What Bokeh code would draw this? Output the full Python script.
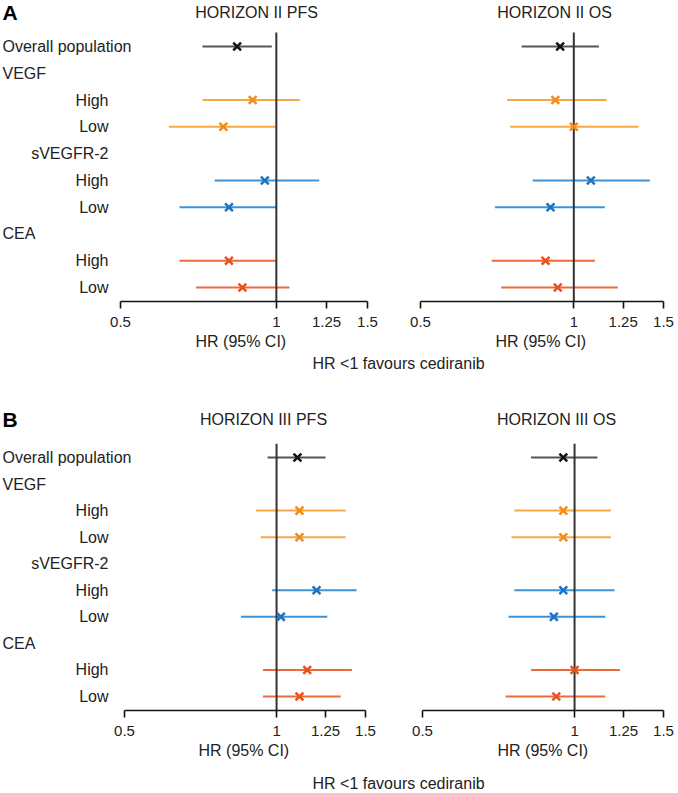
from bokeh.plotting import figure
from bokeh.models import Range1d, Label, FixedTicker, CustomJSTickFormatter, ColumnDataSource, Title
from bokeh.layouts import column, row
from bokeh.embed import file_html
from bokeh.resources import INLINE

# ---------------- data ----------------
row_labels = ["Overall population", "VEGF", "High", "Low", "sVEGFR-2", "High", "Low", "CEA", "High", "Low"]
label_align = ["left", "left", "right", "right", "right", "right", "right", "left", "right", "right"]
est_rows = [0, 2, 3, 5, 6, 8, 9]
est_group = ["Overall", "VEGF", "VEGF", "sVEGFR-2", "sVEGFR-2", "CEA", "CEA"]
tick_values = [0.5, 1, 1.25, 1.5]
null_hr = 1

h2_pfs_hr = [0.84, 0.90, 0.79, 0.95, 0.81, 0.81, 0.86]
h2_pfs_lo = [0.72, 0.72, 0.62, 0.76, 0.65, 0.65, 0.70]
h2_pfs_hi = [0.98, 1.11, 1.00, 1.21, 1.00, 1.00, 1.06]

h2_os_hr = [0.94, 0.92, 1.00, 1.08, 0.90, 0.88, 0.93]
h2_os_lo = [0.79, 0.74, 0.75, 0.83, 0.70, 0.69, 0.72]
h2_os_hi = [1.12, 1.16, 1.34, 1.41, 1.15, 1.10, 1.22]

h3_pfs_hr = [1.10, 1.11, 1.11, 1.20, 1.02, 1.15, 1.11]
h3_pfs_lo = [0.96, 0.91, 0.93, 0.98, 0.85, 0.94, 0.94]
h3_pfs_hi = [1.25, 1.37, 1.37, 1.44, 1.26, 1.41, 1.34]

h3_os_hr = [0.95, 0.95, 0.95, 0.95, 0.91, 1.00, 0.92]
h3_os_lo = [0.82, 0.76, 0.75, 0.76, 0.74, 0.82, 0.73]
h3_os_hi = [1.11, 1.18, 1.18, 1.20, 1.15, 1.23, 1.15]

# ---------------- style ----------------
FONT = "Liberation Sans"
TXT = "#222222"
group_line = {"Overall": "#555555", "VEGF": "#F7A845", "sVEGFR-2": "#3D93D6", "CEA": "#EF6A3A"}
group_marker = {"Overall": "#111111", "VEGF": "#F08C1A", "sVEGFR-2": "#1D72C2", "CEA": "#E9501F"}
LINE_TOP = -0.52     # top of the reference line (rows units)
X_LO, X_HI = 0.5, 1.5
BOTTOM = 54


def forest(hr, lo, hi, title, title_x, title_dy, xlabel_x, left, frame_w, right,
           frame_h, row_px, row0_px, labels=False, letter=None):
    # row geometry (pixels -> row units)
    y_top = -row0_px / row_px
    y_bot = y_top + frame_h / row_px
    # extra room on the left (inside the frame) for the row labels
    if labels:
        x_start = X_LO * (X_HI / X_LO) ** (-left / frame_w)
        min_left = 0
        fw = left + frame_w
    else:
        x_start = X_LO
        min_left = left
        fw = frame_w
    p = figure(width=min_left + fw + right, height=frame_h + BOTTOM, x_axis_type="log",
               x_range=Range1d(x_start, X_HI), y_range=Range1d(y_bot, y_top),
               output_backend="svg", toolbar_location=None,
               min_border_left=min_left, min_border_right=right,
               min_border_top=0, min_border_bottom=BOTTOM,
               y_axis_location=None)
    p.xgrid.visible = False
    p.ygrid.visible = False
    p.outline_line_color = None
    p.background_fill_color = "white"

    ax = p.xaxis[0]
    ax.bounds = (X_LO, X_HI)
    ax.ticker = FixedTicker(ticks=tick_values)
    ax.formatter = CustomJSTickFormatter(code="return tick.toString();")
    ax.axis_line_color = "#111111"
    ax.axis_line_width = 1.6
    ax.major_tick_line_color = "#111111"
    ax.major_tick_line_width = 1.6
    ax.major_tick_out = 7
    ax.major_tick_in = 0
    ax.minor_tick_line_color = None
    ax.major_label_text_font = FONT
    ax.major_label_text_font_size = "15px"
    ax.major_label_text_color = TXT
    ax.major_label_standoff = 8

    # x-axis title placed under the bounded part of the axis
    p.add_layout(Title(text="HR (95% CI)", align="left", offset=xlabel_x, standoff=2,
                       text_font=FONT, text_font_size="16px", text_font_style="normal",
                       text_color=TXT), "below")

    src = ColumnDataSource(dict(
        y=est_rows, hr=hr, lo=lo, hi=hi,
        lc=[group_line[g] for g in est_group],
        mc=[group_marker[g] for g in est_group],
    ))
    p.segment(x0="lo", y0="y", x1="hi", y1="y", source=src, line_color="lc", line_width=2)
    p.segment(x0=[null_hr], y0=[LINE_TOP], x1=[null_hr], y1=[y_bot],
              line_color="#333333", line_width=2)
    p.scatter(x="hr", y="y", source=src, marker="x", size=11, line_color="mc", line_width=2.5)

    p.add_layout(Label(x=x_start, y=y_top, x_offset=title_x, y_offset=-title_dy, text=title,
                       text_align="center", text_baseline="middle", text_font=FONT,
                       text_font_size="16px", text_color=TXT))

    if labels:
        for i, (lab, al) in enumerate(zip(row_labels, label_align)):
            xo = 2 if al == "left" else 108
            p.add_layout(Label(x=x_start, y=i, x_offset=xo, text=lab, text_align=al,
                               text_baseline="middle", text_font=FONT,
                               text_font_size="16px", text_color=TXT))
    if letter:
        p.add_layout(Label(x=x_start, y=y_top, x_offset=2, y_offset=-title_dy, text=letter,
                           text_align="left", text_baseline="middle", text_font=FONT,
                           text_font_size="21px", text_font_style="bold", text_color="#000000"))
    return p


def footnote(h, y_mid):
    f = figure(width=676, height=h, x_range=Range1d(0, 676), y_range=Range1d(0, h),
               output_backend="svg", toolbar_location=None, min_border=0,
               x_axis_location=None, y_axis_location=None)
    f.xgrid.visible = False
    f.ygrid.visible = False
    f.outline_line_color = None
    f.add_layout(Label(x=312, y=h - y_mid, text="HR <1 favours cediranib", text_align="left",
                       text_baseline="middle", text_font=FONT, text_font_size="16px",
                       text_color=TXT))
    return f


# Panel A: frame top at page 0, rows 46..287, axis at 301
a_pfs = forest(h2_pfs_hr, h2_pfs_lo, h2_pfs_hi, "HORIZON II PFS", 256, 12, 195,
               left=120, frame_w=247, right=25,
               frame_h=301, row_px=26.78, row0_px=46, labels=True, letter="A")
a_os = forest(h2_os_hr, h2_os_lo, h2_os_hi, "HORIZON II OS", 134, 12, 75,
              left=28, frame_w=243, right=13,
              frame_h=301, row_px=26.78, row0_px=46)

# Panel B: figure top at page 373, rows 457..696, axis at 710
b_pfs = forest(h3_pfs_hr, h3_pfs_lo, h3_pfs_hi, "HORIZON III PFS", 263, 46, 198,
               left=124, frame_w=241, right=27,
               frame_h=337, row_px=26.56, row0_px=84, labels=True, letter="B")
b_os = forest(h3_os_hr, h3_os_lo, h3_os_hi, "HORIZON III OS", 134, 46, 75,
              left=30, frame_w=241, right=13,
              frame_h=337, row_px=26.56, row0_px=84)

layout = column(row(a_pfs, a_os), footnote(18, 8), row(b_pfs, b_os), footnote(28, 19))

open("out.html", "w").write(file_html(layout, INLINE))
